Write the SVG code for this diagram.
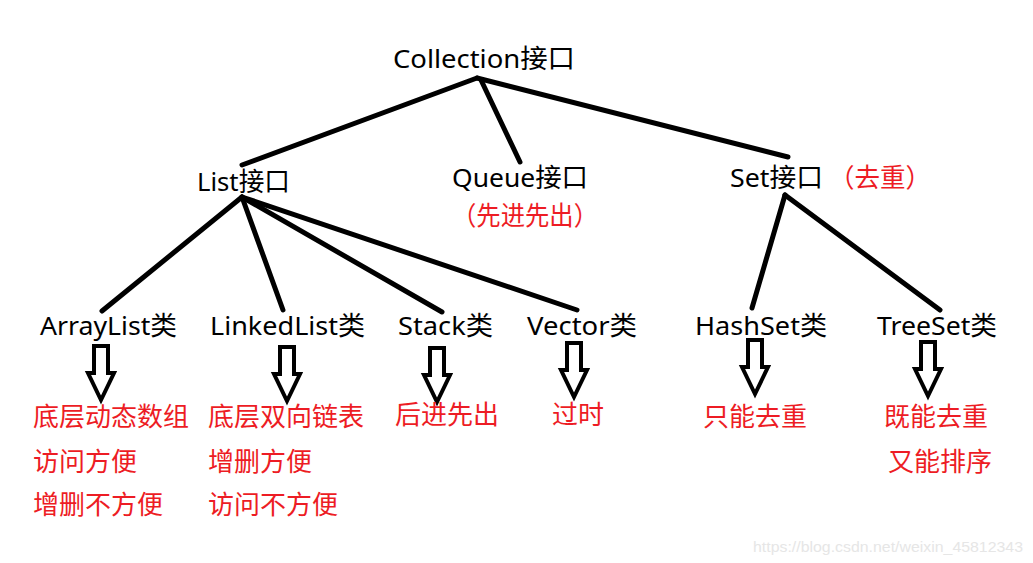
<svg xmlns="http://www.w3.org/2000/svg" width="1033" height="563" viewBox="0 0 1033 563">
<style>
.t{font-family:"Noto Sans","Noto Sans CJK SC",sans-serif;font-size:26px;fill:#000}
.r{font-family:"Noto Sans CJK SC",sans-serif;font-size:26px;fill:#ED1C24}
.ln{stroke:#000;stroke-width:5;stroke-linecap:round;fill:none}
.ar{stroke:#000;stroke-width:4;fill:#fff;stroke-linejoin:miter}
.wm{font-family:"Liberation Sans",Arial,sans-serif;font-size:15px;fill:#e6e6e6}
</style>
<defs>
<polygon id="harrow" points="-7,0 7,0 7,27 13,27 0,54 -13,27 -7,27"/>
</defs>
<rect width="1033" height="563" fill="#fff"/>
<g id="connectors">
<line class="ln" x1="477" y1="78" x2="242" y2="165"/>
<line class="ln" x1="481" y1="80" x2="520" y2="162"/>
<line class="ln" x1="477" y1="78" x2="788" y2="157"/>
<line class="ln" x1="242" y1="197" x2="102" y2="311"/>
<line class="ln" x1="242" y1="197" x2="283" y2="310"/>
<line class="ln" x1="242" y1="197" x2="442" y2="312"/>
<line class="ln" x1="242" y1="197" x2="577" y2="310"/>
<line class="ln" x1="785" y1="195" x2="752" y2="308"/>
<line class="ln" x1="785" y1="195" x2="940" y2="310"/>
<use href="#harrow" class="ar" x="101" y="346"/>
<use href="#harrow" class="ar" x="287" y="347"/>
<use href="#harrow" class="ar" x="437" y="348"/>
<use href="#harrow" class="ar" x="574" y="343"/>
<use href="#harrow" class="ar" x="755" y="340"/>
<use href="#harrow" class="ar" x="928" y="342"/>
</g>
<g id="collection"><text class="t" x="393" y="68" textLength="182" lengthAdjust="spacingAndGlyphs">Collection接口</text></g>
<g id="list"><text class="t" x="197" y="191" textLength="93" lengthAdjust="spacingAndGlyphs">List接口</text></g>
<g id="queue"><text class="t" x="452" y="187" textLength="136" lengthAdjust="spacingAndGlyphs">Queue接口</text>
<text class="r" x="452" y="225" textLength="146" lengthAdjust="spacingAndGlyphs">（先进先出）</text></g>
<g id="set"><text class="t" x="730" y="187" textLength="93" lengthAdjust="spacingAndGlyphs">Set接口</text>
<text class="r" x="829" y="187" textLength="102" lengthAdjust="spacingAndGlyphs">（去重）</text></g>
<g id="arraylist"><text class="t" x="40" y="335" textLength="137" lengthAdjust="spacingAndGlyphs">ArrayList类</text>
<text class="r" x="33" y="426">底层动态数组</text>
<text class="r" x="33" y="471">访问方便</text>
<text class="r" x="33" y="514">增删不方便</text></g>
<g id="linkedlist"><text class="t" x="210" y="335" textLength="155" lengthAdjust="spacingAndGlyphs">LinkedList类</text>
<text class="r" x="208" y="426">底层双向链表</text>
<text class="r" x="208" y="471">增删方便</text>
<text class="r" x="208" y="514">访问不方便</text></g>
<g id="stack"><text class="t" x="398" y="335" textLength="95" lengthAdjust="spacingAndGlyphs">Stack类</text>
<text class="r" x="395" y="424">后进先出</text></g>
<g id="vector"><text class="t" x="527" y="335" textLength="110" lengthAdjust="spacingAndGlyphs">Vector类</text>
<text class="r" x="552" y="424">过时</text></g>
<g id="hashset"><text class="t" x="695" y="335" textLength="132" lengthAdjust="spacingAndGlyphs">HashSet类</text>
<text class="r" x="703" y="426">只能去重</text></g>
<g id="treeset"><text class="t" x="877" y="335" textLength="120" lengthAdjust="spacingAndGlyphs">TreeSet类</text>
<text class="r" x="884" y="426">既能去重</text>
<text class="r" x="888" y="471">又能排序</text></g>
<text class="wm" x="753" y="552" textLength="270" lengthAdjust="spacingAndGlyphs">https://blog.csdn.net/weixin_45812343</text>
</svg>
